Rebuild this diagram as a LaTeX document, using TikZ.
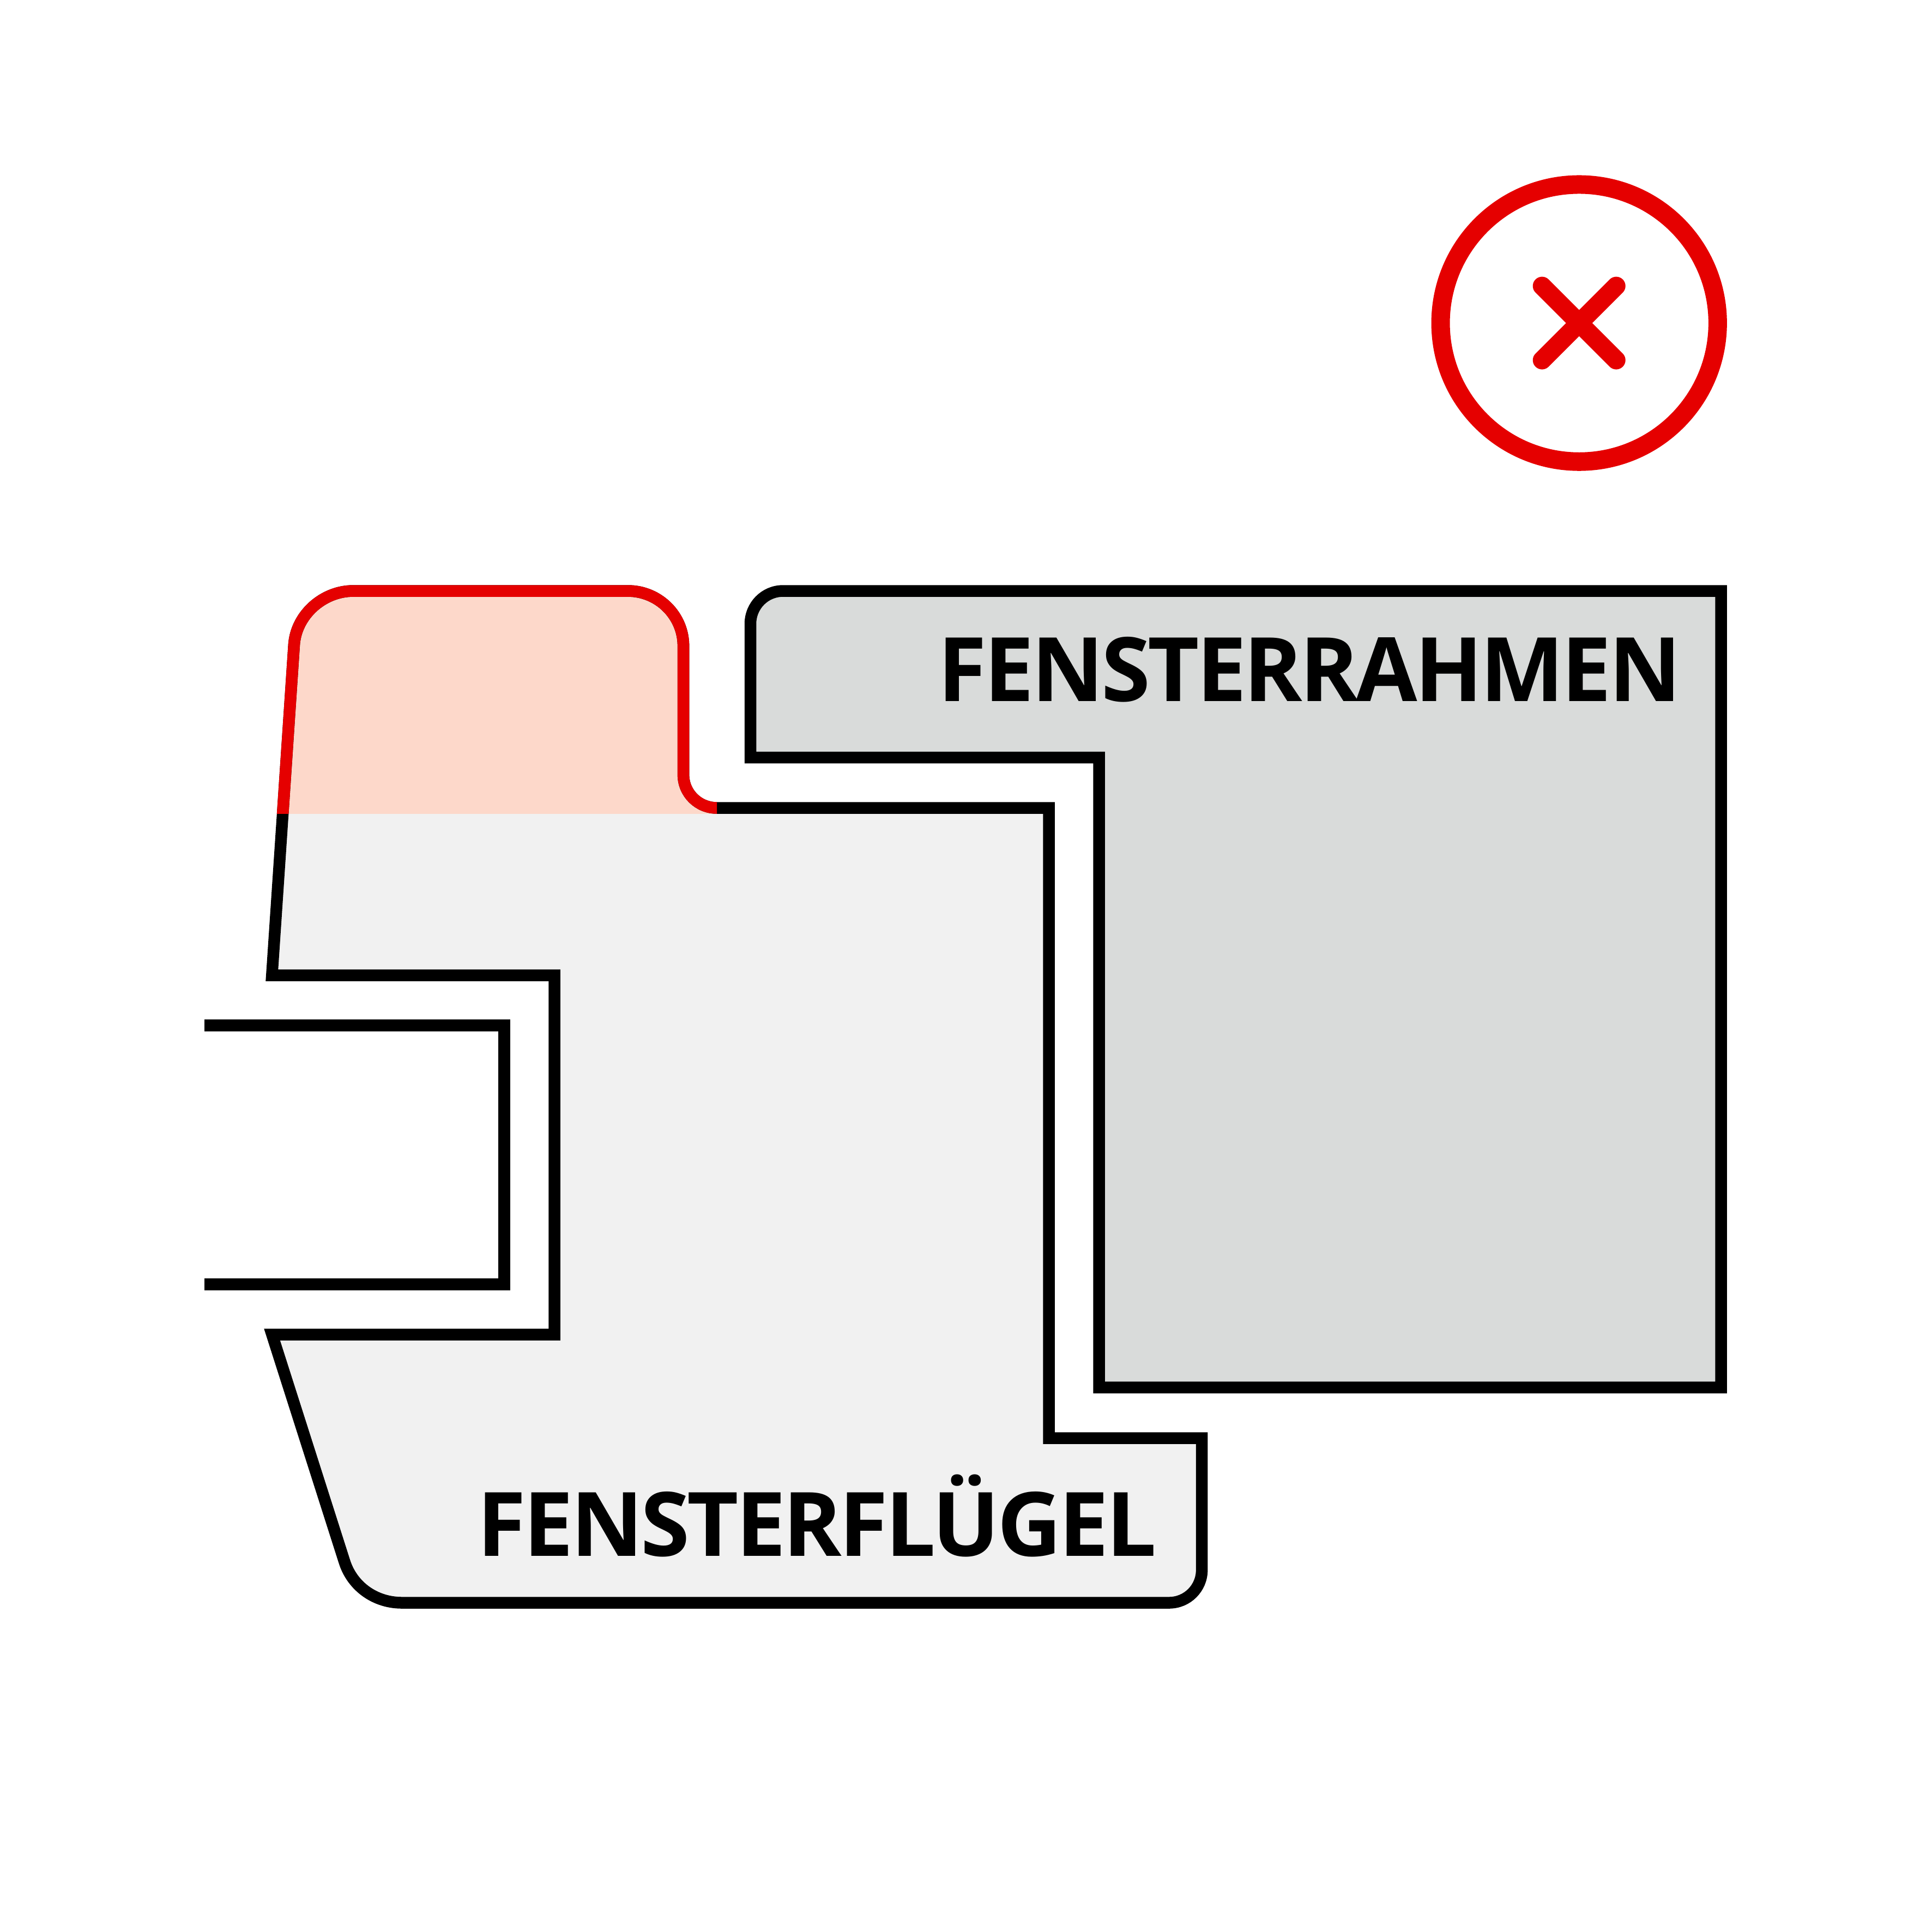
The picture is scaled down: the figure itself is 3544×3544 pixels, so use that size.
\documentclass[tikz,border=0pt]{standalone}
\usepackage{fontspec}
\setmainfont{Open Sans}[BoldFont={Open Sans Bold}]
\newfontfamily\labelfont{Open Sans}[UprightFont={* Bold},LetterSpace=-2.9]
\definecolor{alertred}{HTML}{E50000}
\definecolor{alertpink}{HTML}{FDD8CA}
\definecolor{sashgray}{HTML}{F1F1F1}
\definecolor{framegray}{HTML}{D9DBDA}
\def\sashpath{(1315,1482) -- (1924,1482) -- (1924,2638) -- (2204.6,2638) -- (2204.6,2880) .. controls (2204.6,2913) and (2178,2940) .. (2144.6,2940) -- (737,2940) .. controls (688,2940) and (646.4,2910) .. (632,2865) -- (499,2448) -- (1017,2448) -- (1017,1789) -- (498.8,1789) -- (539.4,1183) .. controls (543,1128.5) and (592,1084) .. (648,1084) -- (1152,1084) .. controls (1207.8,1084) and (1253.6,1129) .. (1253.6,1185) -- (1253.6,1421) .. controls (1253.6,1455) and (1281,1482) .. (1315,1482) -- cycle}
\tikzset{
  outline/.style={line width=0.215cm, miter limit=10, line join=miter},
  redline/.style={outline, draw=alertred},
  label/.style={inner sep=0pt, anchor=base west, font=\labelfont\fontsize{46.4pt}{46.4pt}\selectfont},
}
\begin{document}
\begin{tikzpicture}[x=0.01cm,y=-0.01cm]
\useasboundingbox (0,0) rectangle (3544,3544);
% Fensterrahmen
\draw[outline, fill=framegray] (1376.5,1144.5) .. controls (1376.5,1111) and (1403,1084) .. (1436.5,1084) -- (3157,1084) -- (3157,2545) -- (2016,2545) -- (2016,1389.5) -- (1376.5,1389.5) -- cycle;
% Fensterfluegel
\fill[sashgray] \sashpath;
\begin{scope}
  \clip (0,0) rectangle (3544,1492.5);
  \fill[alertpink] \sashpath;
\end{scope}
\draw[outline] \sashpath;
\begin{scope}
  \clip (0,0) rectangle (1315,1492.5);
  \draw[redline] \sashpath;
\end{scope}
% Glas
\draw[outline] (375,1881) -- (925,1881) -- (925,2356) -- (375,2356);
% Icon
\node[circle, draw=alertred, line width=0.34cm, minimum size=5.08cm, inner sep=0pt] (icon) at (2896.7,592.6) {};
\coordinate (xa) at (2828.7,524.6);
\coordinate (xb) at (2964.7,660.6);
\coordinate (xc) at (2964.7,524.6);
\coordinate (xd) at (2828.7,660.6);
\draw[alertred, line width=0.34cm, line cap=round] (xa) -- (xb);
\draw[alertred, line width=0.34cm, line cap=round] (xc) -- (xd);
% Texte
\node[label] (rahmen) at (1720,1286) {FENSTERRAHMEN};
\node[label] (fluegel) at (875,2854) {FENSTERFLÜGEL};
\end{tikzpicture}
\end{document}
